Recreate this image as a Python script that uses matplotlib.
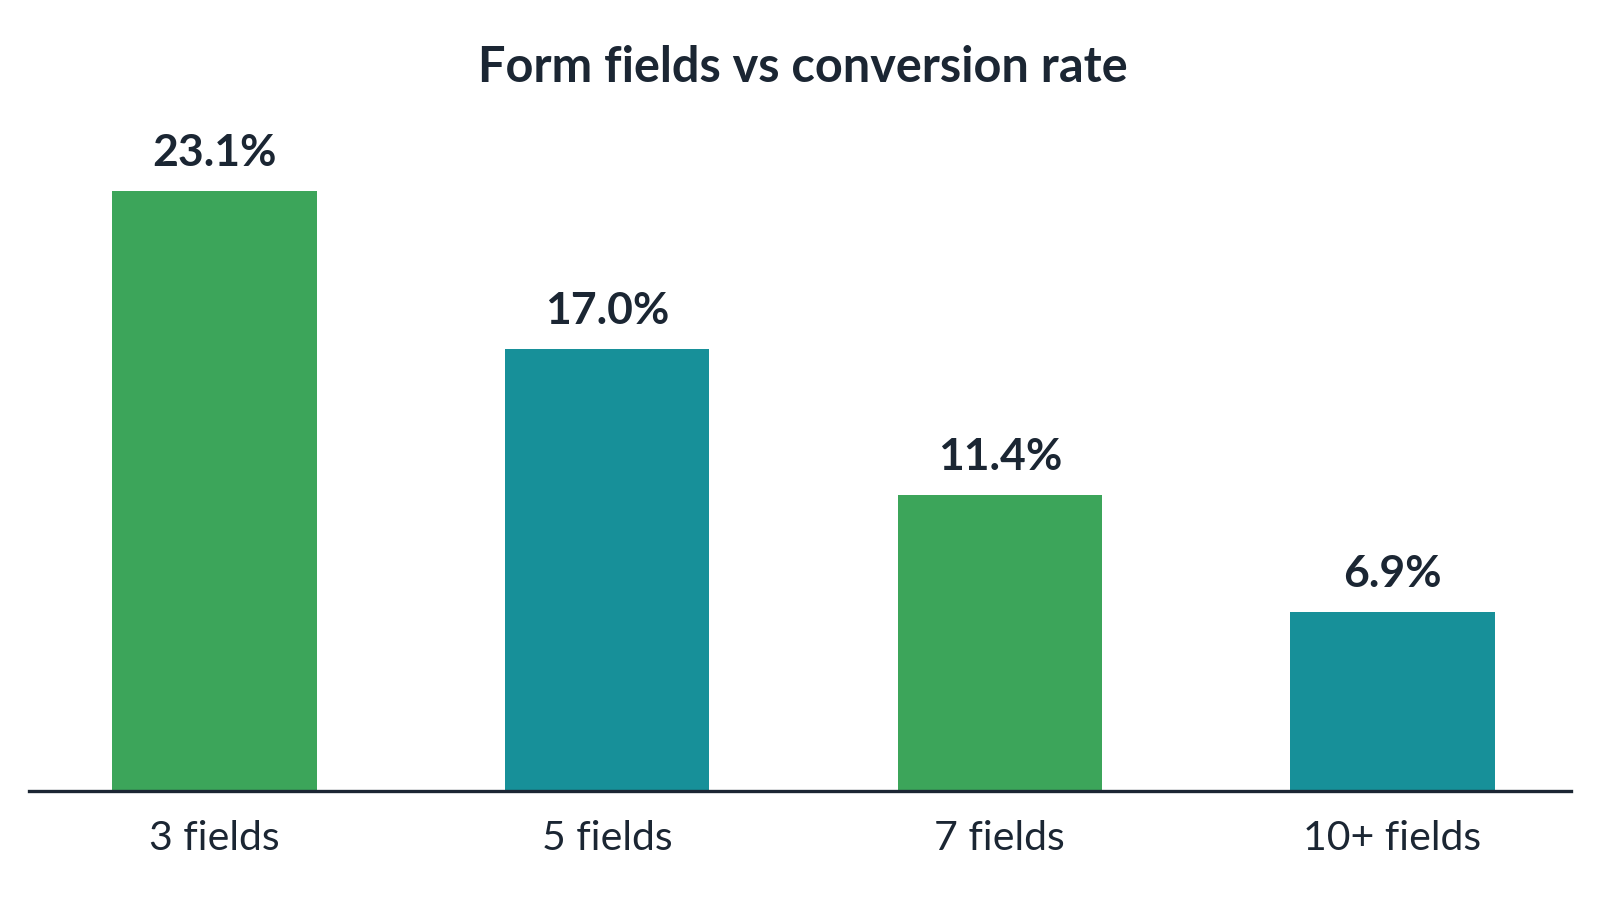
import matplotlib.pyplot as plt
import numpy as np

# data
categories = ["3 fields", "5 fields", "7 fields", "10+ fields"]
rates = [23.1, 17.0, 11.4, 6.9]
bar_colors = ["#3ca55a", "#179099", "#3ca55a", "#179099"]

text_color = "#1b2633"

plt.rcParams['font.family'] = ['Lato', 'DejaVu Sans']

fig = plt.figure(figsize=(16, 9), dpi=100)
ax = fig.add_axes([0.018, 0.1211, 0.964, 0.722])

x = np.arange(len(categories))
bars = ax.bar(x, rates, width=0.52, color=bar_colors, zorder=2)

# value labels above each bar
for rect, val in zip(bars, rates):
    ax.annotate(f"{val:.1f}%", (rect.get_x() + rect.get_width() / 2, rect.get_height()),
                xytext=(0, 13), textcoords="offset points",
                ha="center", va="bottom", fontsize=32, fontweight="bold",
                color=text_color)

ax.set_xlim(-0.473, 3.455)
ax.set_ylim(0, 25)
ax.set_xticks(x)
ax.set_xticklabels(categories, fontsize=29.5, color=text_color)
ax.tick_params(axis="x", length=0, pad=21)
ax.set_yticks([])

for side in ["top", "left", "right"]:
    ax.spines[side].set_visible(False)
ax.spines["bottom"].set_linewidth(2.4)
ax.spines["bottom"].set_color(text_color)
ax.spines["bottom"].set_zorder(3)

fig.text(0.502, 0.925, "Form fields vs conversion rate", ha="center", va="center",
         fontsize=35, fontweight="bold", color=text_color)

fig.savefig("out.png", dpi=100, facecolor="white")
